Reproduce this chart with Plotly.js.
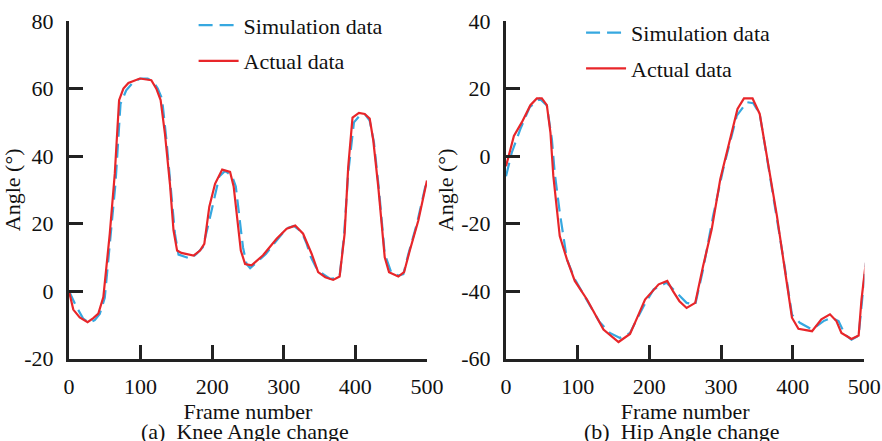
<!DOCTYPE html>
<html><head><meta charset="utf-8">
<script src="https://cdn.plot.ly/plotly-3.0.1.min.js"></script>
</head><body style="margin:0"><div id="chart"></div>
<script>
// Knee (a)
const kneeActualX = [0,6,15,26,34,41,48,57,64,70,76,83,99,115,122,128,134,141,146,151,157,174,183,189,196,204,214,225,230,235,240,246,255,271,290,304,316,327,339,348,358,369,378,385,390,396,405,413,420,425,432,441,447,460,468,476,488,500];
const kneeActualY = [0,-5.5,-7.8,-9.2,-8,-6.7,-1.8,17,34.8,56.6,60,61.7,63,62.5,60,56.6,46.7,31.8,18,12,11.3,10.5,12,14,25,31.8,36,35.3,31,21,12,8,7.6,10.6,15.5,18.5,19.4,17,11,5.6,4.1,3.3,4.3,17,36.8,51.4,52.8,52.5,51.1,44.7,30.8,10,5.6,4.3,5.6,12,21,32.8];
const kneeSimX = [0,10,20,28,36,43,50,58,65,72,80,90,100,110,118,124,130,136,142,148,153,162,170,178,187,195,203,210,218,228,233,238,243,248,253,262,275,290,304,314,325,332,338,345,355,365,372,378,384,390,398,406,413,420,426,433,441,450,460,467,474,486,500];
const kneeSimY = [0,-4.5,-8.2,-9.4,-8.6,-6.8,-2,15,32,55.5,59.5,62,63,63,62,60,57,45,30,17,10.8,10.2,9.6,11,13,20,28,34,35.6,34,31,22,13,8,6.8,8.5,11,15,18.6,19.3,17.5,14,10,7,5,3.6,3.8,4.4,16,35,50,52,52.5,50.5,44,30,11,5.6,4.6,5,11,20,33.2];
// Hip (b)
const hipActualX = [0,11,22,34,43,50,57,62,66,75,85,96,113,136,157,173,182,194,213,225,233,242,252,264,275,287,299,310,323,332,344,354,366,378,389,399,408,427,440,452,461,468,482,492,496,502];
const hipActualY = [-3,6,10,15.1,17.1,17.1,15.1,7,-5.8,-23.7,-30.6,-37,-42.5,-51.4,-55.1,-52.7,-48.4,-42.5,-38,-37,-40,-43,-45,-43.5,-32.6,-21.7,-6.8,3.1,14,17.1,17.1,12.5,-2.9,-17.7,-33.6,-47.9,-51.2,-51.9,-48.4,-46.9,-48.9,-52.4,-54.2,-53.2,-42.5,-31.6];
const hipSimX = [0,8,20,33,47,57,64,68,75,79,85,96,113,130,145,159,173,192,206,224,238,252,264,275,289,303,322,336,345,354,366,378,389,399,410,427,443,454,464,473,482,492,502];
const hipSimY = [-6,1,8,14.5,17,15,5,-5,-16.7,-22.7,-30.6,-36.5,-42.8,-49,-52.4,-53.9,-52.4,-44.5,-39.5,-37.5,-40.5,-43.5,-44,-33.6,-17.7,-3.9,12,16,15.7,12.5,-3,-18,-33,-47,-49.4,-51.4,-48.9,-47.9,-48.9,-52.9,-54.4,-53.2,-31.6];

const xTicks = [0,100,200,300,400,500];
const xTickText = ['0','100','200','300','400','500'];
const kneeTicks = [-20,0,20,40,60,80];
const kneeTickText = ['-20','0','20','40','60','80'];
const hipTicks = [-60,-40,-20,0,20,40];
const hipTickText = ['-60','-40','-20','0','20','40'];

const blue = '#36a8e0', red = '#e8262a';
const F = 'Liberation Serif';
const FS = 22;
const simName = 'Simulation data', actName = 'Actual data';

const traces = [
  {x: kneeSimX, y: kneeSimY, xaxis:'x', yaxis:'y', name: simName, mode:'lines', line:{color:blue, width:2.2, dash:'14px,7px'}, legend:'legend', legendgroup:'a1'},
  {x: kneeActualX, y: kneeActualY, xaxis:'x', yaxis:'y', name: actName, mode:'lines', line:{color:red, width:2.2}, legend:'legend', legendgroup:'a2'},
  {x: hipSimX, y: hipSimY, xaxis:'x2', yaxis:'y2', name: simName, mode:'lines', line:{color:blue, width:2.2, dash:'14px,7px'}, legend:'legend2', legendgroup:'b1'},
  {x: hipActualX, y: hipActualY, xaxis:'x2', yaxis:'y2', name: actName, mode:'lines', line:{color:red, width:2.2}, legend:'legend2', legendgroup:'b2'}
];

function xa(domain, anchor){
  return {domain: domain, anchor: anchor, range:[0,500], tickmode:'array', tickvals: xTicks, ticktext: xTickText, ticks:'inside', ticklen:14, tickwidth:2.5, tickcolor:'#222',
    showline:true, linecolor:'#222', linewidth:3, showgrid:false, zeroline:false, tickfont:{family:F,size:FS,color:'#111'},
    ticklabelstandoff: 6,
    title:{text:'Frame number', font:{family:F,size:FS,color:'#111'}, standoff:0}};
}
function ya(range, anchor, tv, tt){
  return {domain:[0.187,0.952], anchor: anchor, range: range, tickmode:'array', tickvals: tv, ticktext: tt, ticks:'inside', ticklen:14, tickwidth:2.5, tickcolor:'#222',
    showline:true, linecolor:'#222', linewidth:3, showgrid:false, zeroline:false, tickfont:{family:F,size:FS,color:'#111'},
    ticklabelstandoff: 8,
    title:{text:'Angle (°)', font:{family:F,size:FS,color:'#111'}, standoff:2}};
}

const layout = {
  width:882, height:441, margin:{l:0,r:0,t:0,b:0}, paper_bgcolor:'#fff', plot_bgcolor:'#fff',
  xaxis: xa([0.0782,0.4841],'y'),
  yaxis: ya([-20,80],'x',kneeTicks,kneeTickText),
  xaxis2: xa([0.5737,0.980],'y2'),
  yaxis2: ya([-60,40],'x2',hipTicks,hipTickText),
  legend: {x:0.2195, y:0.99, xanchor:'left', yanchor:'top', bgcolor:'rgba(0,0,0,0)', font:{family:F,size:FS,color:'#111'}, traceorder:'grouped', tracegroupgap:4, itemwidth:40},
  legend2: {x:0.6588, y:0.973, xanchor:'left', yanchor:'top', bgcolor:'rgba(0,0,0,0)', font:{family:F,size:FS,color:'#111'}, traceorder:'grouped', tracegroupgap:4, itemwidth:40},
  annotations: [
    {text:'(a)  Knee Angle change', xref:'paper', yref:'paper', x:245/882, y:1-431/441, xanchor:'center', yanchor:'middle', showarrow:false, font:{family:F,size:FS,color:'#111'}},
    {text:'(b)  Hip Angle change', xref:'paper', yref:'paper', x:682/882, y:1-431/441, xanchor:'center', yanchor:'middle', showarrow:false, font:{family:F,size:FS,color:'#111'}}
  ]
};
Plotly.newPlot('chart', traces, layout, {displayModeBar:false});
</script></body></html>
